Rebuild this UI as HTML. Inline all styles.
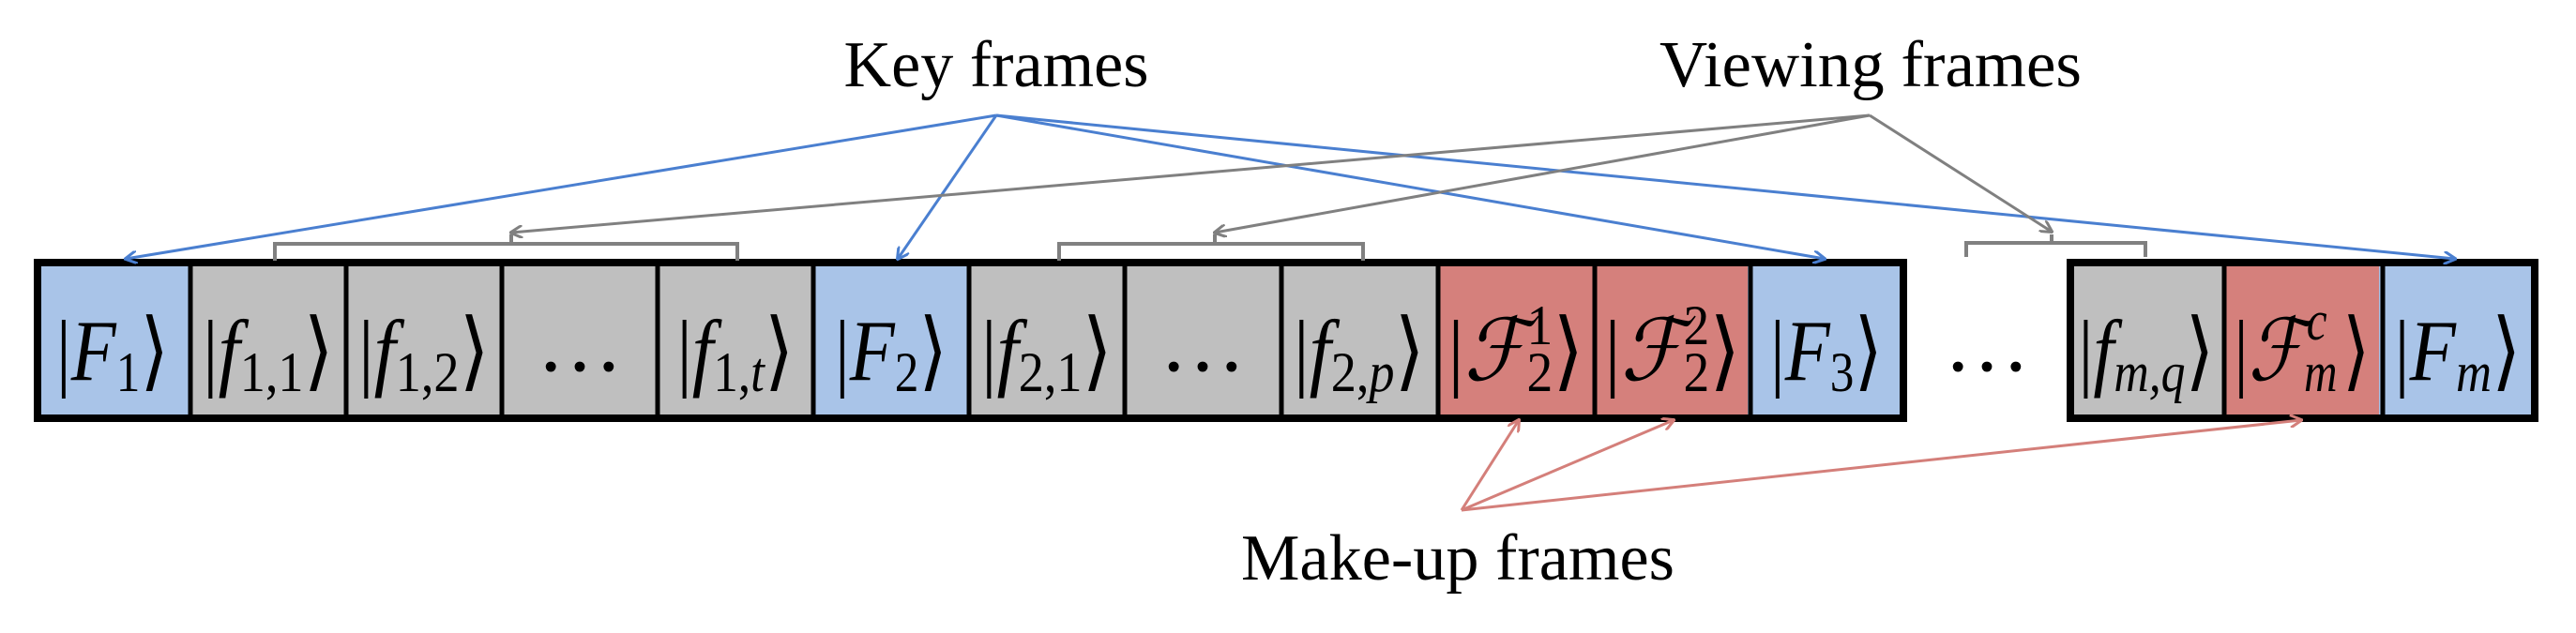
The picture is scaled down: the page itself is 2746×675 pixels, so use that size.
<!DOCTYPE html>
<html><head><meta charset="utf-8"><style>
html,body{margin:0;padding:0;background:#fff;width:2746px;height:675px;overflow:hidden}
svg{display:block}
.lab{font-family:"Liberation Serif","DejaVu Serif",serif;font-size:92px;fill:#000}
.t{font-family:"Liberation Serif",serif;font-size:70px;fill:#000}
</style></head><body>
<svg width="2746" height="675" viewBox="0 0 2746 675" xmlns="http://www.w3.org/2000/svg">
<defs>
<marker id="ab" markerWidth="14" markerHeight="14" refX="12" refY="7" orient="auto" markerUnits="userSpaceOnUse"><path d="M0,0 L13,7 L0,14" fill="none" stroke="#4a7fd0" stroke-width="3"/></marker>
<marker id="ag" markerWidth="14" markerHeight="14" refX="12" refY="7" orient="auto" markerUnits="userSpaceOnUse"><path d="M0,0 L13,7 L0,14" fill="none" stroke="#808080" stroke-width="3"/></marker>
<marker id="ar" markerWidth="14" markerHeight="14" refX="12" refY="7" orient="auto" markerUnits="userSpaceOnUse"><path d="M0,0 L13,7 L0,14" fill="none" stroke="#d47f7a" stroke-width="3"/></marker>
</defs>
<!-- cells -->
<g stroke="none">
<rect x="37" y="276" width="166" height="172" fill="#a9c4e8"/>
<rect x="203" y="276" width="664" height="172" fill="#bfbfbf"/>
<rect x="867" y="276" width="166" height="172" fill="#a9c4e8"/>
<rect x="1033" y="276" width="498" height="172" fill="#bfbfbf"/>
<rect x="1531" y="276" width="332" height="172" fill="#d5807c"/>
<rect x="1863" y="276" width="166" height="172" fill="#a9c4e8"/>
<rect x="2204" y="276" width="166" height="172" fill="#bfbfbf"/>
<rect x="2370" y="276" width="166" height="172" fill="#d5807c"/>
<rect x="2536" y="276" width="166" height="172" fill="#a9c4e8"/>
</g>
<g fill="none" stroke="#000">
<rect x="40" y="280" width="1989" height="166" stroke-width="8"/>
<rect x="2207" y="280" width="495" height="166" stroke-width="8"/>
<g stroke-width="5">
<line x1="203" y1="276" x2="203" y2="450"/><line x1="369" y1="276" x2="369" y2="450"/>
<line x1="535" y1="276" x2="535" y2="450"/><line x1="701" y1="276" x2="701" y2="450"/>
<line x1="867" y1="276" x2="867" y2="450"/><line x1="1033" y1="276" x2="1033" y2="450"/>
<line x1="1199" y1="276" x2="1199" y2="450"/><line x1="1366" y1="276" x2="1366" y2="450"/>
<line x1="1533" y1="276" x2="1533" y2="450"/><line x1="1700" y1="276" x2="1700" y2="450"/>
<line x1="1866" y1="276" x2="1866" y2="450"/>
<line x1="2371" y1="276" x2="2371" y2="450"/><line x1="2540" y1="276" x2="2540" y2="450"/>
</g></g>
<!-- labels -->
<g class="lab">
<text x="120" y="405" text-anchor="middle" textLength="120" lengthAdjust="spacingAndGlyphs">|<tspan font-style="italic">F</tspan><tspan font-size="60" dy="12">1</tspan><tspan dy="-12">⟩</tspan></text>
<text x="286" y="405" text-anchor="middle" textLength="140" lengthAdjust="spacingAndGlyphs">|<tspan font-style="italic">f</tspan><tspan font-size="60" dy="12">1,1</tspan><tspan dy="-12">⟩</tspan></text>
<text x="452" y="405" text-anchor="middle" textLength="140" lengthAdjust="spacingAndGlyphs">|<tspan font-style="italic">f</tspan><tspan font-size="60" dy="12">1,2</tspan><tspan dy="-12">⟩</tspan></text>
<text x="618" y="395" text-anchor="middle">…</text>
<text x="784" y="405" text-anchor="middle" textLength="125" lengthAdjust="spacingAndGlyphs">|<tspan font-style="italic">f</tspan><tspan font-size="60" dy="12">1,<tspan font-style="italic">t</tspan></tspan><tspan dy="-12">⟩</tspan></text>
<text x="950" y="405" text-anchor="middle" textLength="120" lengthAdjust="spacingAndGlyphs">|<tspan font-style="italic">F</tspan><tspan font-size="60" dy="12">2</tspan><tspan dy="-12">⟩</tspan></text>
<text x="1116" y="405" text-anchor="middle" textLength="140" lengthAdjust="spacingAndGlyphs">|<tspan font-style="italic">f</tspan><tspan font-size="60" dy="12">2,1</tspan><tspan dy="-12">⟩</tspan></text>
<text x="1282" y="395" text-anchor="middle">…</text>
<text x="1449" y="405" text-anchor="middle" textLength="140" lengthAdjust="spacingAndGlyphs">|<tspan font-style="italic">f</tspan><tspan font-size="60" dy="12">2,<tspan font-style="italic">p</tspan></tspan><tspan dy="-12">⟩</tspan></text>
<text x="1616" y="405" text-anchor="middle" textLength="145" lengthAdjust="spacingAndGlyphs">|<tspan font-style="italic">ℱ</tspan><tspan font-size="60" dy="12">2</tspan><tspan font-size="60" dx="-30" dy="-50">1</tspan><tspan dy="38">⟩</tspan></text>
<text x="1783" y="405" text-anchor="middle" textLength="145" lengthAdjust="spacingAndGlyphs">|<tspan font-style="italic">ℱ</tspan><tspan font-size="60" dy="12">2</tspan><tspan font-size="60" dx="-30" dy="-50">2</tspan><tspan dy="38">⟩</tspan></text>
<text x="1947" y="405" text-anchor="middle" textLength="120" lengthAdjust="spacingAndGlyphs">|<tspan font-style="italic">F</tspan><tspan font-size="60" dy="12">3</tspan><tspan dy="-12">⟩</tspan></text>
<text x="2118" y="395" text-anchor="middle">…</text>
<text x="2288" y="405" text-anchor="middle" textLength="145" lengthAdjust="spacingAndGlyphs">|<tspan font-style="italic">f</tspan><tspan font-size="60" dy="12" font-style="italic">m,q</tspan><tspan dy="-12">⟩</tspan></text>
<text x="2454" y="405" text-anchor="middle" textLength="145" lengthAdjust="spacingAndGlyphs">|<tspan font-style="italic">ℱ</tspan><tspan font-size="60" dy="12" font-style="italic">m</tspan><tspan font-size="60" dx="-40" dy="-55" font-style="italic">c</tspan><tspan dy="43" dx="20">⟩</tspan></text>
<text x="2620" y="405" text-anchor="middle" textLength="135" lengthAdjust="spacingAndGlyphs">|<tspan font-style="italic">F</tspan><tspan font-size="60" dy="12" font-style="italic">m</tspan><tspan dy="-12">⟩</tspan></text>
</g>
<!-- brackets -->
<g fill="none" stroke="#808080" stroke-width="4">
<path d="M293,278 V260 H786 V278 M545,260 V250"/>
<path d="M1129,278 V260 H1453 V278 M1295,260 V250"/>
<path d="M2096,274 V259 H2287 V274 M2187,259 V250"/>
</g>
<!-- arrows -->
<g fill="none" stroke-width="3">
<g stroke="#4a7fd0">
<line x1="1062" y1="123" x2="134" y2="276" marker-end="url(#ab)"/>
<line x1="1062" y1="123" x2="957" y2="276" marker-end="url(#ab)"/>
<line x1="1062" y1="123" x2="1945" y2="276" marker-end="url(#ab)"/>
<line x1="1062" y1="123" x2="2617" y2="276" marker-end="url(#ab)"/>
</g>
<g stroke="#808080">
<line x1="1993" y1="123" x2="545" y2="248" marker-end="url(#ag)"/>
<line x1="1993" y1="123" x2="1295" y2="248" marker-end="url(#ag)"/>
<line x1="1993" y1="123" x2="2187" y2="247" marker-end="url(#ag)"/>
</g>
<g stroke="#d47f7a">
<line x1="1558" y1="544" x2="1619" y2="448" marker-end="url(#ar)"/>
<line x1="1558" y1="544" x2="1784" y2="448" marker-end="url(#ar)"/>
<line x1="1558" y1="544" x2="2453" y2="448" marker-end="url(#ar)"/>
</g>
</g>
<text class="t" x="1062" y="92" text-anchor="middle" textLength="325" lengthAdjust="spacingAndGlyphs">Key frames</text>
<text class="t" x="1994" y="92" text-anchor="middle" textLength="450" lengthAdjust="spacingAndGlyphs">Viewing frames</text>
<text class="t" x="1554" y="618" text-anchor="middle" textLength="462" lengthAdjust="spacingAndGlyphs">Make-up frames</text>
</svg>
</body></html>
